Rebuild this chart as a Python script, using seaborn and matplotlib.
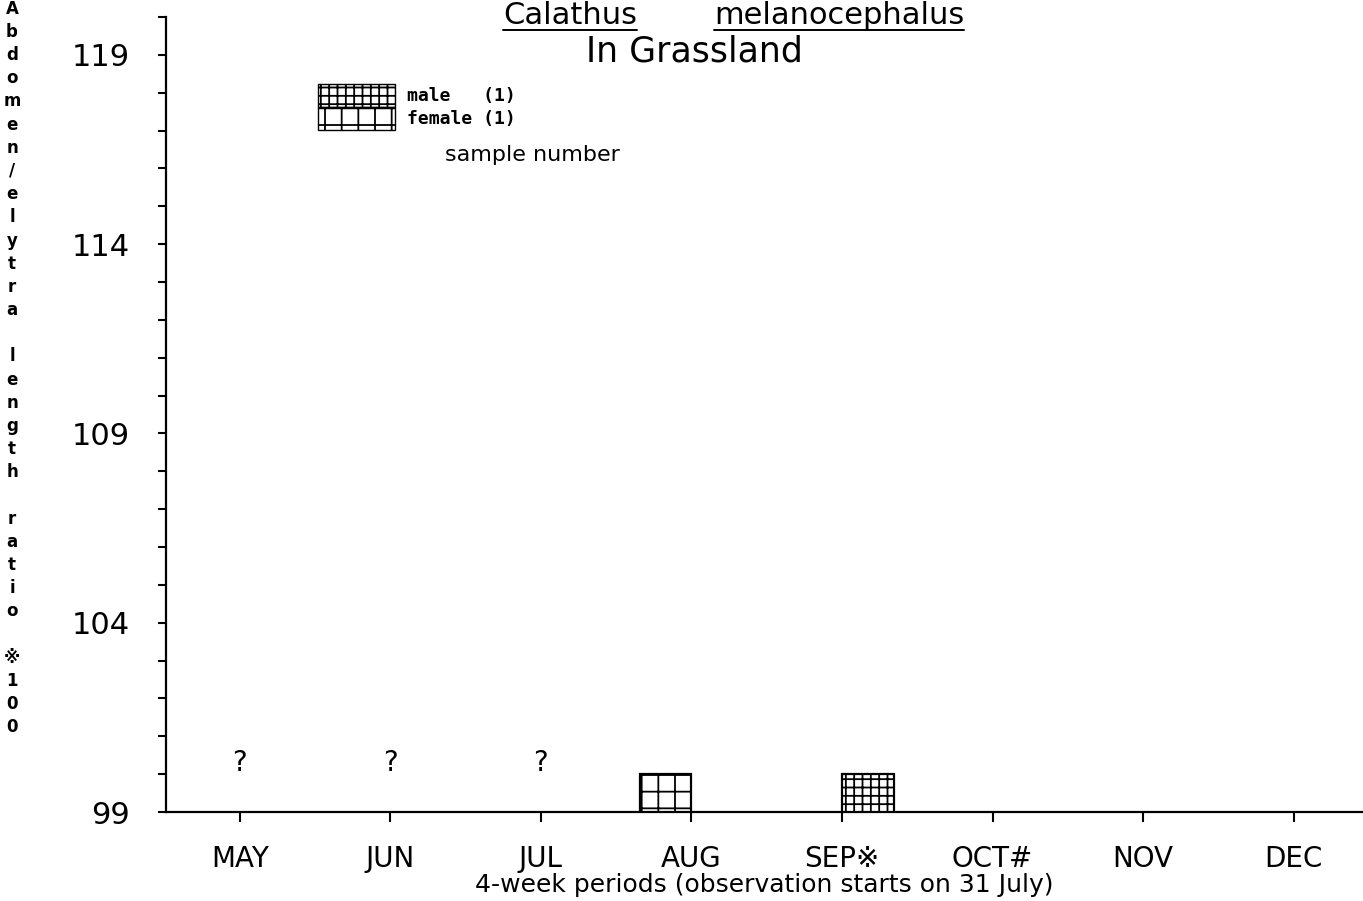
import matplotlib
matplotlib.use('Agg')

import matplotlib.pyplot as plt
from matplotlib.patches import Patch
from matplotlib.lines import Line2D
import seaborn as sns
import pandas as pd
import numpy as np

# data
months = ['MAY', 'JUN', 'JUL', 'AUG', 'SEP\u203b', 'OCT#', 'NOV', 'DEC']
bar_months = ['AUG', 'SEP\u203b']
bar_sex = ['female', 'male']
bar_ratio = [100, 100]
sample_counts = {'male': 1, 'female': 1}
unknown_months = ['MAY', 'JUN', 'JUL']
unknown_level = 100.3
hatches = {'female': '+', 'male': '++'}
y_min, y_max = 99, 120

sns.set_style('ticks')
plt.rcParams['font.family'] = ['DejaVu Sans']
plt.rcParams['hatch.linewidth'] = 1.3
plt.rcParams['hatch.color'] = 'black'
for k in ['text.color', 'axes.labelcolor', 'xtick.color', 'ytick.color',
          'axes.edgecolor']:
    plt.rcParams[k] = 'black'

df = pd.DataFrame({'month': bar_months, 'sex': bar_sex, 'ratio': bar_ratio})

fig = plt.figure(figsize=(13.63, 9.01), dpi=100)
ax = fig.add_axes([166/1363, 1 - 812/901, (1363 - 166)/1363, (812 - 17)/901])

sns.barplot(data=df, x='month', y='ratio', hue='sex', order=months,
            hue_order=['female', 'male'], dodge=True,
            palette={'female': 'white', 'male': 'white'},
            edgecolor='black', linewidth=1.6, width=0.69, gap=0,
            errorbar=None, legend=False, ax=ax)

for sex, cont in zip(['female', 'male'], ax.containers):
    for p in cont:
        p.set_hatch(hatches[sex])

# months with no data
for m in unknown_months:
    ax.text(months.index(m), unknown_level, '?', ha='center', va='center',
            fontsize=20)

ax.set_xlim(-0.49, 7.46)
ax.set_ylim(y_min, y_max)
ax.set_yticks(np.arange(99, 120, 5))
ax.set_yticks(np.arange(99, 121, 1), minor=True)
ax.tick_params(axis='y', which='both', direction='out', length=6, width=1.5,
               pad=20, labelsize=22)
ax.tick_params(axis='x', direction='out', length=7, width=1.5, pad=17,
               labelsize=20)
for s in ['top', 'right']:
    ax.spines[s].set_visible(False)
for s in ['left', 'bottom']:
    ax.spines[s].set_linewidth(1.6)
ax.set_ylabel('')
ax.set_xlabel('4-week periods (observation starts on 31 July)', fontsize=18,
              labelpad=0)

# legend
handles = [Patch(facecolor='white', edgecolor='black', hatch=hatches['male'],
                 label='male   (%d)' % sample_counts['male']),
           Patch(facecolor='white', edgecolor='black', hatch=hatches['female'],
                 label='female (%d)' % sample_counts['female'])]
fig.legend(handles=handles, loc='upper left',
           bbox_to_anchor=(318/1363, 1 - 84/901), bbox_transform=fig.transFigure,
           frameon=False, borderpad=0, borderaxespad=0, labelspacing=0,
           handlelength=4.26, handleheight=1.58, handletextpad=0.66,
           prop={'family': 'DejaVu Sans Mono', 'size': 13, 'weight': 'bold'})
fig.text(532/1363, 1 - 155/901, 'sample number', ha='center', va='center',
         fontsize=16)

# titles (species name underlined word by word)
t1 = fig.text(570/1363, 1 - 24/901, 'Calathus', ha='center', va='baseline',
              fontsize=22)
t2 = fig.text(839/1363, 1 - 24/901, 'melanocephalus', ha='center',
              va='baseline', fontsize=22)
fig.canvas.draw()
r = fig.canvas.get_renderer()
for t in (t1, t2):
    bb = t.get_window_extent(r).transformed(fig.transFigure.inverted())
    fig.add_artist(Line2D([bb.x0, bb.x1], [1 - 30/901] * 2,
                          transform=fig.transFigure, color='black', lw=1.4))
fig.text(694/1363, 1 - 51/901, 'In Grassland', ha='center', va='center',
         fontsize=25)

# stacked vertical y label
fig.text(12/1363, 1 - 368/901,
         '\n'.join('Abdomen/elytra length ratio \u203b100'),
         ha='center', va='center', multialignment='center', fontsize=12,
         fontweight='bold', linespacing=1.37)

fig.savefig('out.png', dpi=100)
